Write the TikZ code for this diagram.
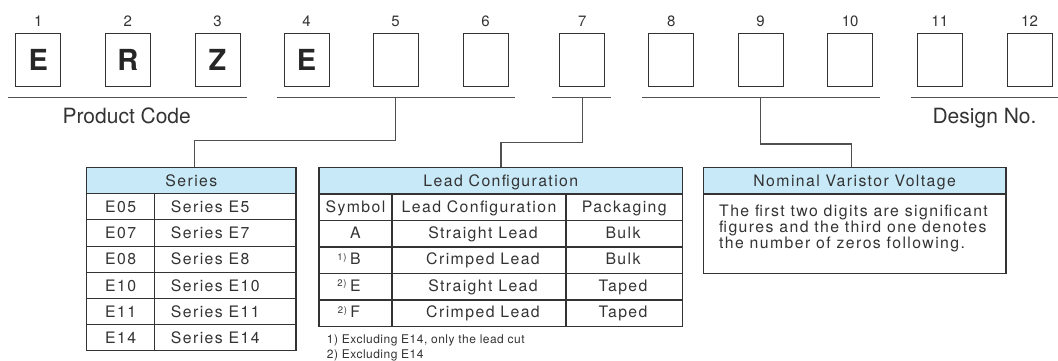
\documentclass[tikz,border=0pt]{standalone}
\usepackage{fontspec}
\setmainfont{TeX Gyre Heros}
\newfontfamily\tabfont[LetterSpace=9]{TeX Gyre Heros}
\newfontfamily\notefont[LetterSpace=4]{TeX Gyre Heros}
\definecolor{hdr}{RGB}{200,233,248}
\definecolor{ink}{RGB}{51,51,51}
\definecolor{rulec}{RGB}{80,80,80}
\begin{document}
\begin{tikzpicture}[x=1pt,y=-1pt,
  digitbox/.style={draw=ink, line width=1pt, minimum width=45pt, minimum height=53pt, inner sep=0pt, text height=20.8pt, text depth=0pt, font=\bfseries\fontsize{29}{29}\selectfont, text=black!85},
  numlbl/.style={font=\fontsize{15}{15}\selectfont, text=ink, inner sep=0pt, text height=10.7pt, text depth=0pt},
  grouplbl/.style={font=\fontsize{21}{21}\selectfont, text=ink, inner sep=0pt, text height=15pt, text depth=0pt},
  underline/.style={draw=rulec, line width=1.5pt},
  conn/.style={draw=rulec, line width=1.3pt},
  tabline/.style={draw=ink, line width=1.1pt},
  cell/.style={font=\tabfont\fontsize{15.8}{15.8}\selectfont, text=ink, inner sep=0pt, text height=11.3pt, text depth=0pt},
  hdrcell/.style={cell, fill=hdr, draw=ink, line width=1.1pt},
  supl/.style={font=\tabfont\fontsize{9.5}{9.5}\selectfont, text=ink, inner sep=0pt, anchor=base east},
  notetext/.style={font=\notefont\fontsize{12}{12}\selectfont, text=ink, inner sep=0pt, anchor=base west},
  bodytext/.style={font=\tabfont\fontsize{15.8}{15.8}\selectfont, text=ink, inner sep=0pt, anchor=base west},
]
\useasboundingbox (0,0) rectangle (1058,360);

% code boxes and position numbers
\foreach \i/\x/\t in {1/38.2/E,2/127.8/R,3/217.5/Z,4/306.5/E,5/395.5/{},6/485.5/{},
                      7/582.2/{},8/671.2/{},9/760.5/{},10/850.2/{},11/939.8/{},12/1029.5/{}}{
  \node[digitbox] (b\i) at (\x,60.2) {\t};
  \node[numlbl] (n\i) at (\x,21.3) {\i};
}

% underlines
\coordinate (uA1) at (8.3,97.7);   \coordinate (uA2) at (246.7,97.7);
\coordinate (uB1) at (276.7,97.7); \coordinate (uB2) at (515,97.7);
\coordinate (uC1) at (552.3,97.7); \coordinate (uC2) at (611.3,97.7);
\coordinate (uD1) at (642.3,97.7); \coordinate (uD2) at (880.3,97.7);
\coordinate (uE1) at (910.7,97.7); \coordinate (uE2) at (1062,97.7);
\draw[underline] (uA1) -- (uA2);
\draw[underline] (uB1) -- (uB2);
\draw[underline] (uC1) -- (uC2);
\draw[underline] (uD1) -- (uD2);
\draw[underline] (uE1) -- (uE2);

\node[grouplbl] (pc) at (126.7,115.5) {Product Code};
\node[grouplbl] (dn) at (984.5,115.5) {Design No.};

\coordinate (tB) at (b5 |- uB1);
\coordinate (tC) at (b7 |- uC1);
\coordinate (tD) at (b9 |- uD1);

% ---------- Series table ----------
\node[hdrcell, minimum width=209.3pt, minimum height=26.2pt] (serH) at (191.35,180.6) {Series};
\draw[tabline] (86.7,193.7) rectangle (296,350.9);
\foreach \y in {219.9,246.1,272.3,298.5,324.7} \draw[tabline] (86.7,\y) -- (296,\y);
\draw[tabline] (154.7,193.7) -- (154.7,350.9);
\foreach \k/\c/\d [count=\r from 0] in {s1/E05/Series E5,s2/E07/Series E7,s3/E08/Series E8,
                                       s4/E10/Series E10,s5/E11/Series E11,s6/E14/Series E14}{
  \node[cell] (\k c) at (120.7,206.8+26.2*\r) {\c};
  \node[cell, anchor=west] (\k d) at (170.7,206.8+26.2*\r) {\d};
}
\draw[conn] (tB) -- ++(0,42.8) -| ([xshift=3pt]serH.north);

% ---------- Lead configuration table ----------
\node[hdrcell, minimum width=363.7pt, minimum height=26.5pt] (leadH) at (500.85,180.75) {Lead Configuration};
\draw[tabline] (319,194) rectangle (682.7,326.5);
\foreach \y in {220.5,247,273.5,300} \draw[tabline] (319,\y) -- (682.7,\y);
\draw[tabline] (392,194) -- (392,326.5);
\draw[tabline] (566,194) -- (566,326.5);
\node[cell] (lh1) at (355.5,206.5) {Symbol};
\node[cell] (lh2) at (479,206.5) {Lead Configuration};
\node[cell] (lh3) at (624.3,206.5) {Packaging};
\foreach \k/\s/\l/\p [count=\r from 0] in {rA/A/Straight Lead/Bulk,rB/B/Crimped Lead/Bulk,
                                          rE/E/Straight Lead/Taped,rF/F/Crimped Lead/Taped}{
  \node[cell] (\k s) at (355.3,232.8+26.5*\r) {\s};
  \node[cell] (\k l) at (483,232.8+26.5*\r) {\l};
  \node[cell] (\k p) at (623,232.8+26.5*\r) {\p};
}
\node[supl] (supB) at ([xshift=-3pt,yshift=4.5pt]rBs.base west) {1)};
\node[supl] (supE) at ([xshift=-3pt,yshift=4.5pt]rEs.base west) {2)};
\node[supl] (supF) at ([xshift=-3pt,yshift=4.5pt]rFs.base west) {2)};
\node[notetext] (fn1) at (326.7,343.3) {1) Excluding E14, only the lead cut};
\node[notetext] (fn2) at (326.7,358.3) {2) Excluding E14};
\draw[conn] (tC) -- ++(0,45) -| (leadH.north);

% ---------- Nominal varistor voltage ----------
\node[hdrcell, minimum width=302.7pt, minimum height=26.5pt] (nomH) at (854.65,180.75) {Nominal Varistor Voltage};
\draw[tabline] (703.3,194) rectangle (1006,273.3);
\node[bodytext] (nv1) at (719,216.7) {The first two digits are significant};
\node[bodytext] (nv2) at (719,232.7) {figures and the third one denotes};
\node[bodytext] (nv3) at (719,248.7) {the number of zeros following.};
\draw[conn] (tD) -- ++(0,46.3) -| ([xshift=-3pt]nomH.north);
\end{tikzpicture}
\end{document}
